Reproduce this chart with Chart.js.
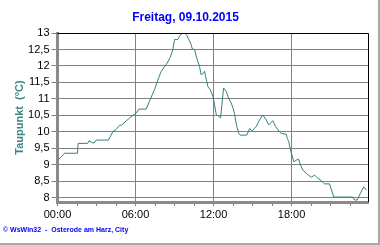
<!DOCTYPE html>
<html>
<head>
<meta charset="utf-8">
<style>
  html, body { margin: 0; padding: 0; background: #ffffff; }
  #wrap { width: 380px; height: 245px; }
</style>
<script src="https://cdn.jsdelivr.net/npm/chart.js@4/dist/chart.umd.min.js"></script>
</head>
<body>
<div id="wrap"><canvas id="c" width="380" height="245"></canvas></div>
<script>
// Time of reading (hours since 00:00) and dew point values (°C)
const hours = [
  0.00, 0.31, 0.54, 1.54, 1.58, 2.31, 2.42, 2.62, 2.82, 2.98, 3.92, 4.25, 4.52, 4.77, 4.92,
  5.54, 6.05, 6.25, 6.82, 7.13, 7.46, 7.79, 7.98, 8.36, 8.67, 8.87, 9.00, 9.25, 9.38, 9.59,
  9.77, 9.95, 10.10, 10.28, 10.36, 10.54, 10.67, 10.79, 10.92, 11.05, 11.23, 11.31, 11.38,
  11.48, 11.56, 11.75, 11.95, 12.08, 12.21, 12.41, 12.54, 12.67, 12.77, 12.98, 13.10, 13.23,
  13.36, 13.48, 13.62, 13.69, 13.79, 13.95, 14.05, 14.56, 14.77, 14.98, 15.28, 15.54, 15.79,
  16.05, 16.25, 16.56, 16.77, 17.08, 17.21, 17.59, 17.67, 17.79, 17.85, 18.02, 18.18, 18.36,
  18.54, 18.69, 18.87, 19.13, 19.52, 19.77, 20.02, 20.28, 20.54, 20.92, 21.25, 22.72, 22.85,
  23.05, 23.31, 23.56, 23.75
];
const taupunkt = [
  9.14, 9.25, 9.35, 9.35, 9.65, 9.65, 9.73, 9.68, 9.66, 9.75, 9.75, 10.00, 10.08, 10.20, 10.20,
  10.42, 10.57, 10.69, 10.69, 10.98, 11.28, 11.65, 11.84, 12.04, 12.26, 12.49, 12.80, 12.80, 12.90, 13.00,
  13.00, 12.93, 12.80, 12.65, 12.52, 12.50, 12.29, 12.14, 11.99, 11.73, 11.79, 11.84, 11.69,
  11.53, 11.38, 11.28, 11.08, 10.82, 10.52, 10.47, 10.42, 10.93, 11.33, 11.23, 11.08, 10.96,
  10.88, 10.74, 10.55, 10.36, 10.16, 9.95, 9.90, 9.90, 10.10, 10.03, 10.16, 10.36, 10.51,
  10.36, 10.21, 10.34, 10.16, 10.00, 9.95, 9.93, 9.80, 9.70, 9.57, 9.30, 9.09, 9.14,
  9.17, 8.99, 8.84, 8.74, 8.62, 8.69, 8.59, 8.52, 8.42, 8.42, 8.02, 8.02, 7.93,
  7.93, 8.15, 8.33, 8.23
];
const xMajorTicks = [0, 6, 12, 18];
const xMinorTicks = [1.5, 3, 4.5, 7.5, 9, 10.5, 13.5, 15, 16.5, 19.5, 21, 22.5];
const yTicks = [8, 8.5, 9, 9.5, 10, 10.5, 11, 11.5, 12, 12.5, 13];
const titleText = 'Freitag, 09.10.2015';
const yTitleText = 'Taupunkt  (°C)';
const footerText = '© WsWin32  -  Osterode am Harz, City';

const points = hours.map((h, i) => ({ x: h, y: taupunkt[i] }));
const isMajorX = v => xMajorTicks.includes(v);

const framePlugin = {
  id: 'frame',
  beforeDraw(chart) {
    const ctx = chart.ctx;
    ctx.save();
    ctx.fillStyle = '#ffffff';
    ctx.fillRect(0, 0, chart.width, chart.height);
    ctx.restore();
  },
  afterDraw(chart) {
    const ctx = chart.ctx;
    const a = chart.chartArea;
    ctx.save();
    ctx.strokeStyle = '#000000';
    ctx.lineWidth = 1;
    ctx.beginPath();
    ctx.moveTo(a.left, a.top + 0.5);
    ctx.lineTo(a.right + 0.5, a.top + 0.5);
    ctx.lineTo(a.right + 0.5, a.bottom);
    ctx.stroke();
    ctx.fillStyle = '#a8a8a8';
    ctx.fillRect(chart.width - 2, 0, 2, chart.height);
    ctx.fillRect(0, chart.height - 2, chart.width, 2);
    ctx.restore();
  }
};

new Chart(document.getElementById('c'), {
  type: 'line',
  data: {
    datasets: [{
      data: points,
      borderColor: '#347f7f',
      borderWidth: 1,
      pointRadius: 0,
      tension: 0,
      fill: false
    }]
  },
  options: {
    responsive: false,
    animation: false,
    events: [],
    layout: { padding: { left: 3, right: 12, top: 0, bottom: 0 } },
    plugins: {
      legend: { display: false },
      tooltip: { enabled: false },
      title: {
        display: true,
        text: titleText,
        color: '#0000ff',
        font: { family: 'Liberation Sans, Arial, sans-serif', size: 12, weight: 'bold' },
        padding: { top: 10.5, bottom: 8.1 }
      },
      subtitle: {
        display: true,
        text: footerText,
        position: 'bottom',
        align: 'start',
        color: '#0000ff',
        font: { family: 'Liberation Sans, Arial, sans-serif', size: 7, weight: 'bold' },
        padding: { top: 2, bottom: 10.8 }
      }
    },
    scales: {
      x: {
        type: 'linear',
        min: 0,
        max: 23.88,
        afterFit(scale) { scale.height = 21.8; },
        afterBuildTicks(scale) {
          scale.ticks = xMajorTicks.concat(xMinorTicks).sort((a, b) => a - b).map(v => ({ value: v }));
        },
        ticks: {
          color: '#000000',
          font: { family: 'Liberation Sans, Arial, sans-serif', size: 11 },
          padding: 2,
          maxRotation: 0,
          autoSkip: false,
          callback: v => isMajorX(v) ? String(v).padStart(2, '0') + ':00' : ''
        },
        grid: {
          color: ctx => (ctx.tick && isMajorX(ctx.tick.value)) ? '#808080' : 'rgba(0,0,0,0)',
          lineWidth: 1,
          borderDash: [4, 3],
          tickLength: 4,
          tickColor: '#808080',
          tickBorderDash: []
        },
        border: { display: true, color: '#8a8a8a', width: 3, dash: [] }
      },
      y: {
        type: 'linear',
        min: 7.87,
        max: 13,
        afterFit(scale) { scale.width = 54.5; },
        afterBuildTicks(scale) { scale.ticks = yTicks.map(v => ({ value: v })); },
        ticks: {
          color: '#000000',
          font: { family: 'Liberation Sans, Arial, sans-serif', size: 11 },
          padding: 2,
          callback: v => String(v).replace('.', ',')
        },
        grid: {
          color: '#808080',
          lineWidth: 1,
          borderDash: [4, 3],
          tickLength: 6,
          tickColor: '#808080',
          tickBorderDash: []
        },
        border: { display: true, color: '#8a8a8a', width: 3, dash: [] },
        title: {
          display: true,
          text: yTitleText,
          color: '#3a8585',
          font: { family: 'Liberation Sans, Arial, sans-serif', size: 11, weight: 'bold' },
          padding: { top: 10, bottom: 0 }
        }
      }
    }
  },
  plugins: [framePlugin]
});
</script>
</body>
</html>
